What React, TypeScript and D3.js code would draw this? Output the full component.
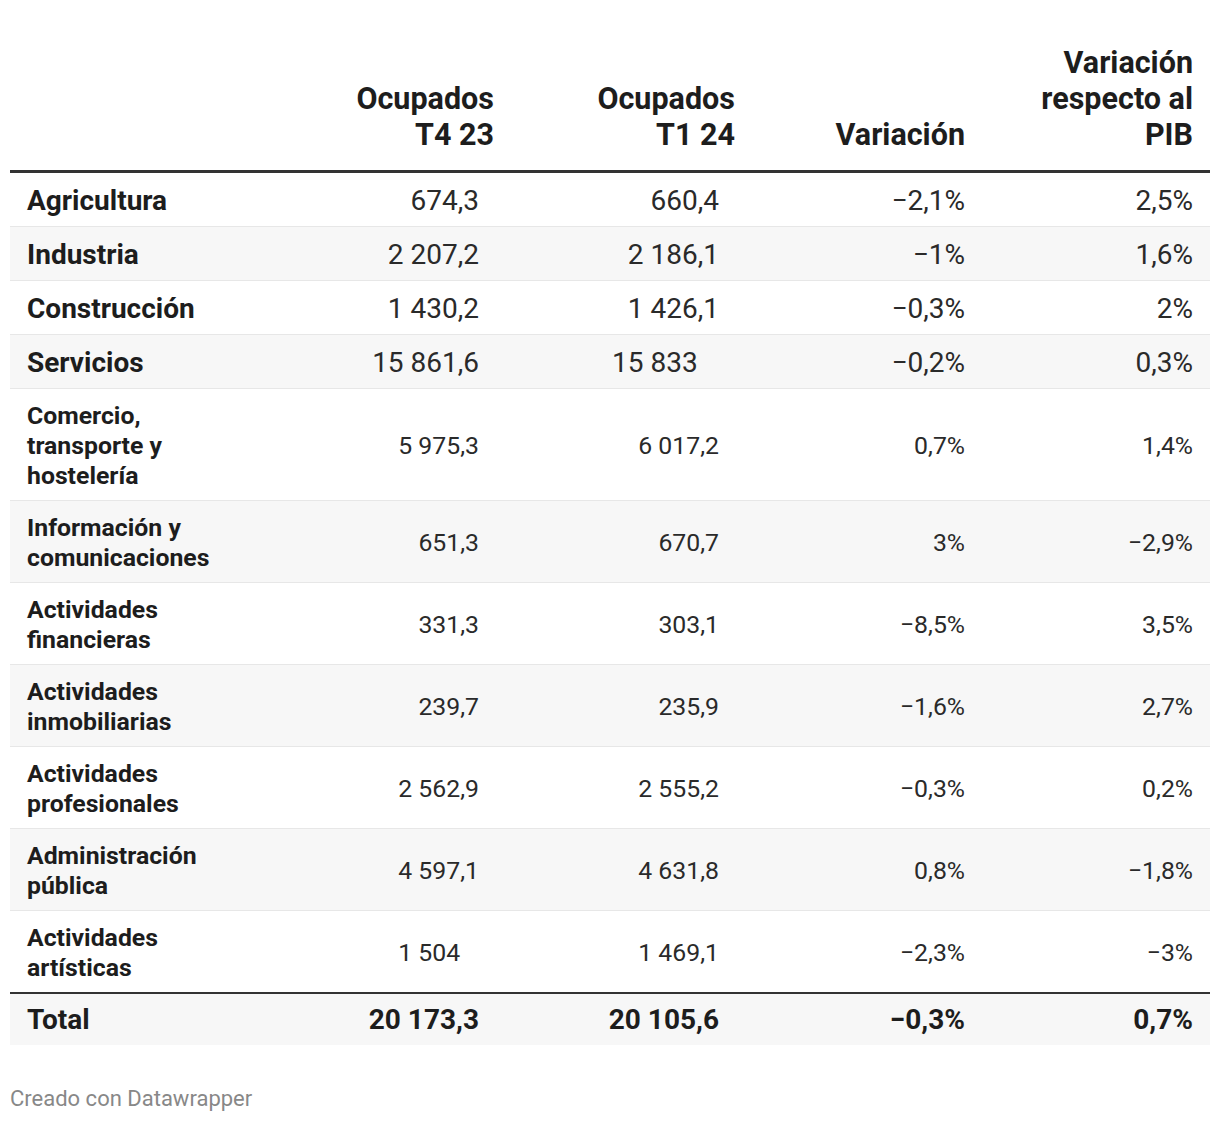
import React from "react";
import * as d3 from "d3";

// ---------- data ----------
const sectors = [
  "Agricultura",
  "Industria",
  "Construcción",
  "Servicios",
  "Comercio, transporte y hostelería",
  "Información y comunicaciones",
  "Actividades financieras",
  "Actividades inmobiliarias",
  "Actividades profesionales",
  "Administración pública",
  "Actividades artísticas",
];
const ocupadosT423 = [674.3, 2207.2, 1430.2, 15861.6, 5975.3, 651.3, 331.3, 239.7, 2562.9, 4597.1, 1504];
const ocupadosT124 = [660.4, 2186.1, 1426.1, 15833, 6017.2, 670.7, 303.1, 235.9, 2555.2, 4631.8, 1469.1];
const variacion = [-2.1, -1, -0.3, -0.2, 0.7, 3, -8.5, -1.6, -0.3, 0.8, -2.3];
const variacionPIB = [2.5, 1.6, 2, 0.3, 1.4, -2.9, 3.5, 2.7, 0.2, -1.8, -3];
const totalLabel = "Total";
const totalValues = [20173.3, 20105.6, -0.3, 0.7];
const headers = [["Ocupados", "T4 23"], ["Ocupados", "T1 24"], ["Variación"], ["Variación", "respecto al", "PIB"]];
const columnKinds = ["number", "number", "percent", "percent"];
const footer = "Creado con Datawrapper";

// ---------- layout / style ----------
const W = 1220;
const H = 1122;
const FONT = "Roboto, 'Noto Sans', sans-serif";
const BODY_FS = 28;
const SMALL_FS = 24.8;
const HEAD_FS = 30.5;
const LINE_H = 30;
const tableLeft = 10;
const tableRight = 1210;
const labelX = 27;
const headerRight = [494, 735, 965, 1193];
const valueRight = [479, 719, 965, 1193];
const headerBaseline = 145;
const headerLineGap = 36;
const bodyTop = 173;
const labelMaxWidth = 195;

const locale = d3.formatLocale({
  decimal: ",",
  thousands: " ",
  grouping: [3],
  currency: ["", "\u00a0€"],
  minus: "\u2212",
});
const fmtNum = locale.format(",.1~f");
const fmtPct = (v: number) => locale.format(",.1~f")(v) + "%";

let ctx: CanvasRenderingContext2D | null = null;
function measure(text: string, weight: string, size: number) {
  if (!ctx) ctx = document.createElement("canvas").getContext("2d");
  if (!ctx) return text.length * size * 0.55;
  ctx.font = `${weight} ${size}px Roboto`;
  return ctx.measureText(text).width;
}

function wrap(text: string, maxW: number, weight: string, size: number) {
  const words = text.split(" ");
  const lines: string[] = [];
  let cur = "";
  for (const w of words) {
    const t = cur ? cur + " " + w : w;
    if (cur && measure(t, weight, size) > maxW) {
      lines.push(cur);
      cur = w;
    } else cur = t;
  }
  if (cur) lines.push(cur);
  return lines;
}

export default function App() {
  const rows = sectors.map((s, i) => {
    const single = measure(s, "bold", BODY_FS) <= labelMaxWidth;
    const fs = single ? BODY_FS : SMALL_FS;
    return {
      label: s,
      values: [ocupadosT423[i], ocupadosT124[i], variacion[i], variacionPIB[i]],
      lines: single ? [s] : wrap(s, labelMaxWidth, "bold", SMALL_FS),
      fs,
    };
  });
  const rowH = (n: number) => Math.max(54, 22 + n * LINE_H);
  let y = bodyTop;
  const laid = rows.map((r, i) => {
    const h = rowH(r.lines.length);
    const o = { ...r, y0: y, h, i };
    y += h;
    return o;
  });
  const totalTop = y;
  const totalH = 52;

  const fmtCell = (v: number, k: number) => (columnKinds[k] === "number" ? fmtNum(v) : fmtPct(v));
  const cellX = (v: number, k: number, weight: string, fs: number) => {
    if (columnKinds[k] === "number" && Number.isInteger(v)) {
      return valueRight[k] - measure(",0", weight, fs);
    }
    return valueRight[k];
  };

  return (
    <svg
      width={W}
      height={H}
      viewBox={`0 0 ${W} ${H}`}
      style={{ position: "absolute", left: 0, top: 0, background: "#fff" }}
      fontFamily={FONT}
    >
      <rect x={0} y={0} width={W} height={H} fill="#fff" />
      {/* header */}
      {headers.map((lines, k) =>
        lines.map((ln, j) => (
          <text
            key={`h${k}-${j}`}
            x={headerRight[k]}
            y={headerBaseline - (lines.length - 1 - j) * headerLineGap}
            textAnchor="end"
            fontSize={HEAD_FS}
            fontWeight="bold"
            fill="#1d1d1d"
          >
            {ln}
          </text>
        ))
      )}
      <rect x={tableLeft} y={170} width={tableRight - tableLeft} height={3.5} fill="#333" />

      {/* body rows */}
      {laid.map((r) => {
        const cy = r.y0 + r.h / 2;
        const isLast = r.i === laid.length - 1;
        return (
          <g key={r.label}>
            <rect
              x={tableLeft}
              y={r.y0}
              width={tableRight - tableLeft}
              height={r.h}
              fill={r.i % 2 === 1 ? "#f7f7f7" : "#ffffff"}
            />
            {!isLast && (
              <rect x={tableLeft} y={r.y0 + r.h - 1} width={tableRight - tableLeft} height={2} fill="#e7e7e7" />
            )}
            {r.lines.map((ln, j) => (
              <text
                key={j}
                x={labelX}
                y={cy - ((r.lines.length - 1) * LINE_H) / 2 + j * LINE_H + r.fs * 0.355}
                fontSize={r.fs}
                fontWeight="bold"
                fill="#1d1d1d"
              >
                {ln}
              </text>
            ))}
            {r.values.map((v, k) => (
              <text
                key={k}
                x={cellX(v, k, "normal", r.fs)}
                y={cy + r.fs * 0.355}
                textAnchor="end"
                fontSize={r.fs}
                fill="#2a2a2a"
              >
                {fmtCell(v, k)}
              </text>
            ))}
          </g>
        );
      })}

      {/* total row */}
      <rect x={tableLeft} y={totalTop} width={tableRight - tableLeft} height={totalH} fill="#f7f7f7" />
      <rect x={tableLeft} y={totalTop - 1} width={tableRight - tableLeft} height={2} fill="#333" />
      <text
        x={labelX}
        y={totalTop + totalH / 2 + BODY_FS * 0.355}
        fontSize={BODY_FS}
        fontWeight="bold"
        fill="#1d1d1d"
      >
        {totalLabel}
      </text>
      {totalValues.map((v, k) => (
        <text
          key={`t${k}`}
          x={cellX(v, k, "bold", BODY_FS)}
          y={totalTop + totalH / 2 + BODY_FS * 0.355}
          textAnchor="end"
          fontSize={BODY_FS}
          fontWeight="bold"
          fill="#1d1d1d"
        >
          {fmtCell(v, k)}
        </text>
      ))}

      {/* footer */}
      <text x={10} y={1106} fontSize={22} fill="#888">
        {footer}
      </text>
    </svg>
  );
}
